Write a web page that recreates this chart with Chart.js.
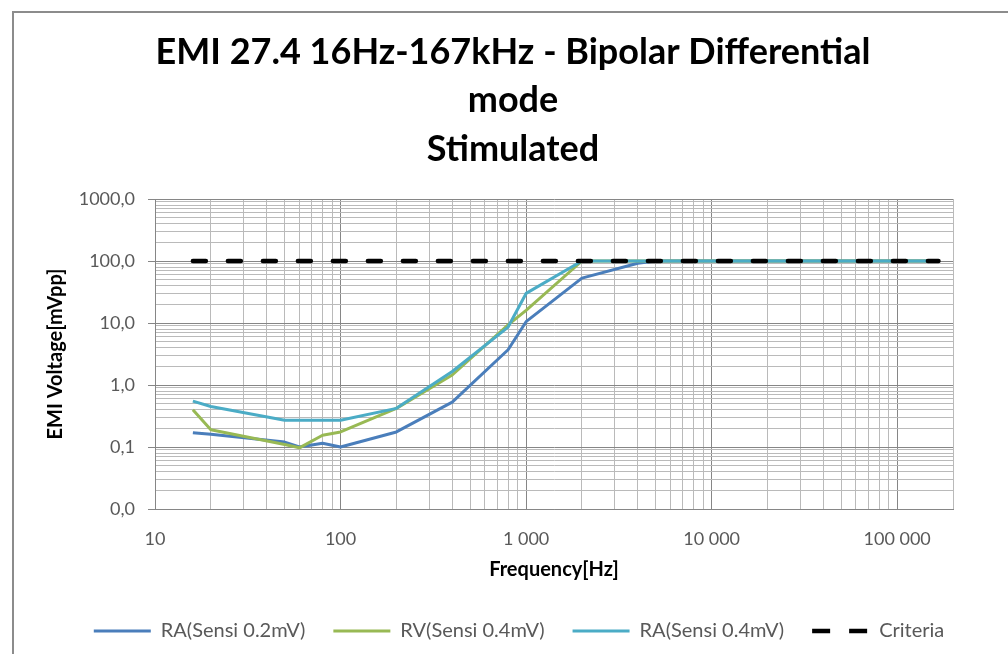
<!DOCTYPE html>
<html>
<head>
<meta charset="utf-8">
<script src="https://cdn.jsdelivr.net/npm/chart.js@4/dist/chart.umd.min.js"></script>
<style>
  html, body { margin: 0; padding: 0; background: #fff; overflow: hidden; }
  body { width: 1008px; height: 654px; position: relative; }
  #frame { position: absolute; left: 12px; top: 11px; width: 1010px; height: 700px;
           border-left: 2px solid #8c8c8c; border-top: 2px solid #8c8c8c; }
  #wrap { position: absolute; left: 13px; top: 12px; width: 1000px; height: 642px; }
</style>
</head>
<body>
<div id="frame"></div>
<div id="wrap"><canvas id="chart" width="1000" height="642"></canvas></div>
<script>
// measured points (Hz / mVpp)
var freqHz     = [16, 20, 50, 60, 80, 100, 200, 400, 800, 1000, 2000, 4000, 5000, 10000, 20000, 50000, 100000, 167000];
var raSensi02  = [0.17, 0.16, 0.12, 0.1, 0.115, 0.1, 0.175, 0.53, 3.7, 10.5, 53, 92, 100, 100, 100, 100, 100, 100];
var rvSensi04  = [0.4, 0.19, 0.11, 0.097, 0.155, 0.175, 0.42, 1.45, 9.3, 16, 100, 100, 100, 100, 100, 100, 100, 100];
var raSensi04b = [0.55, 0.45, 0.27, 0.27, 0.27, 0.27, 0.42, 1.65, 8.6, 30, 100, 100, 100, 100, 100, 100, 100, 100];
var criteria   = [100, 100, 100, 100, 100, 100, 100, 100, 100, 100, 100, 100, 100, 100, 100, 100, 100, 100];

var seriesNames = ['RA(Sensi 0.2mV)', 'RV(Sensi 0.4mV)', 'RA(Sensi 0.4mV)', 'Criteria'];

var xTickValues = [10, 100, 1000, 10000, 100000];
var xTickLabels = ['10', '100', '1 000', '10 000', '100 000'];
var yTickValues = [0.01, 0.1, 1, 10, 100, 1000];
var yTickLabels = ['0,0', '0,1', '1,0', '10,0', '100,0', '1000,0'];

var MAJOR = '#868686', MINOR = '#bababa', TXT = '#595959';

function pts(ys) {
    return freqHz.map(function(f, i) { return {x: f, y: ys[i]}; });
}

// 1..9 x 10^n gridlines between min and max
function logGrid(min, max) {
    var out = [];
    for (var e = Math.floor(Math.log10(min)); e <= Math.ceil(Math.log10(max)); e++) {
        for (var m = 1; m <= 9; m++) {
            var v = Number((m * Math.pow(10, e)).toPrecision(6));
            if (v >= min * 0.999 && v <= max * 1.001) out.push(v);
        }
    }
    return out;
}

function findIdx(list, v) {
    for (var i = 0; i < list.length; i++) {
        if (Math.abs(list[i] - v) < list[i] * 1e-6) return i;
    }
    return -1;
}

// the legend sits a little right of centre in the original
var legendShift = {
    id: 'legendShift',
    afterLayout: function(ch) { ch.legend.left += 12; }
};

Chart.defaults.font.family = 'Lato';

var ctx = document.getElementById('chart').getContext('2d');
var chart = new Chart(ctx, {
    type: 'line',
    data: {
        datasets: [
            { label: seriesNames[0], data: pts(raSensi02), borderColor: '#4a7ebb', borderWidth: 3, order: 3 },
            { label: seriesNames[1], data: pts(rvSensi04), borderColor: '#98b954', borderWidth: 3, order: 2 },
            { label: seriesNames[2], data: pts(raSensi04b), borderColor: '#4bacc6', borderWidth: 3, order: 1 },
            { label: seriesNames[3], data: pts(criteria), borderColor: '#000000', borderWidth: 4.5,
              borderDash: [13, 22], borderCapStyle: 'round', order: 0 }
        ]
    },
    plugins: [legendShift],
    options: {
        responsive: false,
        animation: false,
        layout: { padding: { left: 0, right: 0, top: 0, bottom: 3 } },
        elements: {
            point: { radius: 0, hoverRadius: 0 },
            line: { tension: 0, fill: false, borderJoinStyle: 'round' }
        },
        scales: {
            x: {
                type: 'logarithmic',
                min: 10,
                max: 200000,
                afterBuildTicks: function(s) { s.ticks = logGrid(10, 200000).map(function(v) { return {value: v}; }); },
                afterFit: function(s) { s.height = 84; },
                grid: {
                    drawTicks: false,
                    color: function(c) { return findIdx(xTickValues, c.tick.value) >= 0 ? MAJOR : MINOR; }
                },
                border: { color: MAJOR },
                ticks: {
                    autoSkip: false, maxRotation: 0, padding: 19,
                    color: TXT, font: { size: 18 },
                    callback: function(v) { var i = findIdx(xTickValues, v); return i >= 0 ? xTickLabels[i] : ''; }
                },
                title: {
                    display: true, text: 'Frequency[Hz]', color: '#000',
                    font: { size: 20, weight: 'bold' }, padding: { top: 0, bottom: 11 }
                }
            },
            y: {
                type: 'logarithmic',
                min: 0.01,
                max: 1000,
                afterBuildTicks: function(s) { s.ticks = logGrid(0.01, 1000).map(function(v) { return {value: v}; }); },
                afterFit: function(s) { s.width = 142; },
                grid: {
                    tickLength: 7,
                    color: function(c) { return findIdx(yTickValues, c.tick.value) >= 0 ? MAJOR : MINOR; },
                    tickColor: function(c) { return findIdx(yTickValues, c.tick.value) >= 0 ? MAJOR : 'rgba(0,0,0,0)'; }
                },
                border: { color: MAJOR },
                ticks: {
                    autoSkip: false, padding: 13,
                    color: TXT, font: { size: 18 },
                    callback: function(v) { var i = findIdx(yTickValues, v); return i >= 0 ? yTickLabels[i] : ''; }
                },
                title: {
                    display: true, text: 'EMI Voltage[mVpp]', color: '#000',
                    font: { size: 20, weight: 'bold' }, padding: { top: 31, bottom: 0 }
                }
            },
            // empty right-hand axis: only keeps the plot clear of the right edge
            yPad: {
                type: 'linear', position: 'right', display: true,
                grid: { display: false, drawTicks: false }, border: { display: false },
                ticks: { display: false },
                afterFit: function(s) { s.width = 60; }
            }
        },
        plugins: {
            title: {
                display: true,
                text: ['EMI 27.4 16Hz-167kHz - Bipolar Differential', 'mode', 'Stimulated'],
                color: '#000',
                font: { size: 36, weight: 'bold', lineHeight: '48.5px' },
                padding: { top: 16, bottom: 25.5 }
            },
            legend: {
                position: 'bottom',
                labels: {
                    color: TXT, font: { size: 20 }, padding: 28,
                    usePointStyle: true, pointStyle: 'line', pointStyleWidth: 57,
                    sort: function(a, b) { return a.datasetIndex - b.datasetIndex; },
                    generateLabels: function(ch) {
                        var items = Chart.defaults.plugins.legend.labels.generateLabels(ch);
                        items.forEach(function(it) {
                            it.lineWidth = it.datasetIndex === 3 ? 4.5 : 3;
                            if (it.datasetIndex === 3) it.lineDash = [18, 19];
                        });
                        return items;
                    }
                }
            },
            tooltip: { enabled: false }
        }
    }
});
</script>
</body>
</html>
